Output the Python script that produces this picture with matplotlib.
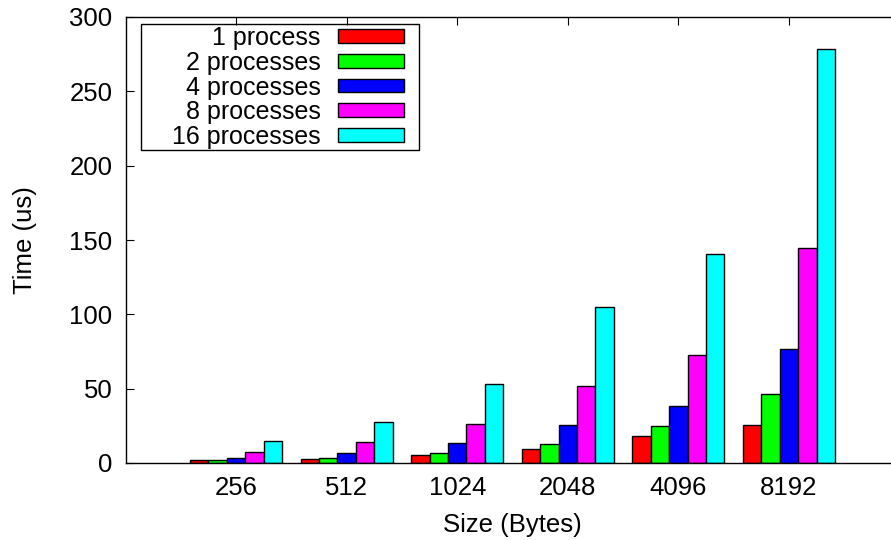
import matplotlib
matplotlib.use('Agg')
import matplotlib.pyplot as plt
from matplotlib.patches import Rectangle
import numpy as np

plt.rcParams['font.family'] = ['Liberation Sans', 'DejaVu Sans']

# data
sizes = ['256', '512', '1024', '2048', '4096', '8192']
p1 = [1.8, 2.9, 5.2, 9.2, 18.4, 25.8]
p2 = [1.8, 3.2, 6.7, 12.8, 25.1, 46.6]
p4 = [3.6, 6.7, 13.2, 25.8, 38.3, 76.9]
p8 = [7.4, 13.9, 26.4, 51.6, 72.4, 144.4]
p16 = [14.8, 27.6, 53.3, 104.7, 140.5, 278.4]
series = [p1, p2, p4, p8, p16]
names = ['1 process', '2 processes', '4 processes', '8 processes', '16 processes']
colors = ['#ff0000', '#00ff00', '#0000ff', '#ff00ff', '#00ffff']

fs = 18.5
W, H = 891, 540
L, B, AW, AH = 125.5, 463, 774, 446   # axes box in pixels (right edge is cut off)

fig = plt.figure(figsize=(W/100, H/100), dpi=100)
ax = fig.add_axes([L/W, (H-B)/H, AW/W, AH/H])

x = np.arange(len(sizes))
bw = 1/6
for j, (vals, name, c) in enumerate(zip(series, names, colors)):
    ax.bar(x + (j - 2)*bw, vals, width=bw, color=c, edgecolor='black',
           linewidth=1.0, label=name)

ax.set_xlim(-1, 6)
ax.set_ylim(0, 300)
ax.set_xticks(x)
ax.set_xticklabels(sizes)
ax.set_yticks(np.arange(0, 301, 50))
ax.tick_params(axis='x', direction='in', top=True, bottom=False, length=6,
               labelsize=fs, pad=9.5)
ax.tick_params(axis='y', direction='in', right=False, length=6,
               labelsize=fs, pad=9.5)
for s in ax.spines.values():
    s.set_linewidth(1.0)
ax.spines['right'].set_visible(False)

ax.set_xlabel('Size (Bytes)', fontsize=fs, labelpad=9)
ax.set_ylabel('Time (us)', fontsize=fs, labelpad=23)

# legend: text first, swatch after, with a gnuplot-like box around it
leg = ax.legend(loc='upper right', bbox_to_anchor=((404-L)/AW, (B-26)/AH),
                markerfirst=False, fontsize=18, frameon=False,
                handlelength=2.65, handleheight=0.47, labelspacing=0.03,
                borderaxespad=0, borderpad=0, handletextpad=0.68)
for t in leg.get_texts():
    t.set_ha('right')
ax.add_patch(Rectangle(((141-L)/AW, (B-150)/AH), (419-141)/AW, 126/AH,
                       transform=ax.transAxes, fill=False, edgecolor='black',
                       linewidth=1.0, zorder=5))

fig.savefig('out.png', dpi=100)
